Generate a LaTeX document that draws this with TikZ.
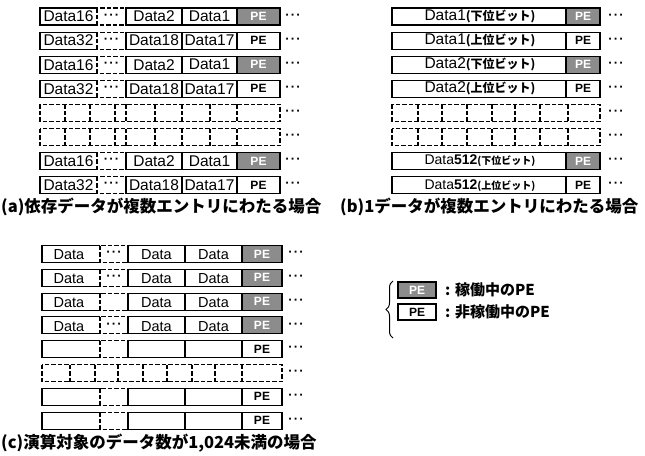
\documentclass[tikz,border=0pt]{standalone}
\usepackage{fontspec}
\setmainfont{Liberation Sans}
\newfontfamily\jp{Noto Sans CJK JP}
\usetikzlibrary{decorations.pathreplacing}
\newcommand{\mydots}{\textbf{·\kern1.2pt·\kern1.2pt·}}
\tikzset{
  cellline/.style={draw=black, line width=1.1pt},
  dcell/.style={draw=black, line width=1.1pt, dash pattern=on 4.5pt off 2pt},
  pebox/.style={draw=black, line width=1.1pt, inner sep=0pt, minimum height=17pt,
    font=\bfseries\fontsize{12}{12}\selectfont},
  peon/.style={fill=black!45, text=white},
  peoff/.style={fill=white, text=black},
  dtxt/.style={inner sep=0pt, font=\fontsize{15.5}{15.5}\selectfont},
  ctxt/.style={inner sep=0pt, font=\fontsize{14.5}{14.5}\selectfont},
  dotstxt/.style={inner sep=0pt, font=\fontsize{13}{13}\selectfont},
  captxt/.style={inner sep=0pt, anchor=west, font=\jp\bfseries\fontsize{16.5}{16.5}\selectfont},
  legtxt/.style={inner sep=0pt, anchor=west, font=\jp\bfseries\fontsize{15}{15}\selectfont},
}
\begin{document}
\begin{tikzpicture}[x=1pt,y=-1pt]
\useasboundingbox (0,0) rectangle (645,455);

% ---------------- panel (a) ----------------
\foreach \i/\a/\b/\c/\st in {0/Data16/Data2/Data1/peon,1/Data32/Data18/Data17/peoff,
    2/Data16/Data2/Data1/peon,3/Data32/Data18/Data17/peoff,
    6/Data16/Data2/Data1/peon,7/Data32/Data18/Data17/peoff}{
  \pgfmathsetmacro\y{16.5+24.1*\i}
  \draw[cellline] (97,\y-8.5) -- (40,\y-8.5) -- (40,\y+8.5) -- (97,\y+8.5);
  \draw[dcell] (97,\y-8.5) rectangle (126,\y+8.5);
  \draw[cellline] (126,\y-8.5) rectangle (237,\y+8.5) (182,\y-8.5) -- (182,\y+8.5);
  \node[dtxt] (a\i c1) at (68.5,\y) {\a};
  \node[dotstxt] (a\i c2) at (111.5,\y) {\mydots};
  \node[dtxt] (a\i c3) at (154,\y) {\b};
  \node[dtxt] (a\i c4) at (209.5,\y) {\c};
  \node[pebox,\st,minimum width=43pt] (a\i pe) at (258.5,\y) {PE};
  \node[dotstxt] (a\i r) at (293,\y) {\mydots};
}
\foreach \i in {4,5}{
  \pgfmathsetmacro\y{16.5+24.1*\i}
  \draw[dcell] (40,\y-8.5) rectangle (280,\y+8.5);
  \foreach \x in {65,90,115,126,155,182,210,237}
    \draw[dcell] (\x,\y-8.5) -- (\x,\y+8.5);
  \node[dotstxt] (a\i r) at (293,\y) {\mydots};
}
\node[captxt] (capa) at (1,207) {(a)依存データが複数エントリにわたる場合};

% ---------------- panel (b) ----------------
\foreach \i/\n/\w/\st in {0/1/下位ビット/peon,1/1/上位ビット/peoff,
    2/2/下位ビット/peon,3/2/上位ビット/peoff}{
  \pgfmathsetmacro\y{16.5+24.1*\i}
  \draw[cellline] (392,\y-8.5) rectangle (566,\y+8.5);
  \node[dtxt] (b\i t) at (480,\y) {Data\n{\jp\bfseries\fontsize{12}{12}\selectfont(\w)}};
  \node[pebox,\st,minimum width=34pt] (b\i pe) at (583,\y) {PE};
  \node[dotstxt] (b\i r) at (616,\y) {\mydots};
}
\foreach \i/\w/\st in {6/下位ビット/peon,7/上位ビット/peoff}{
  \pgfmathsetmacro\y{16.5+24.1*\i}
  \draw[cellline] (392,\y-8.5) rectangle (566,\y+8.5);
  \node[inner sep=0pt] (b\i t) at (480,\y) {\fontsize{14}{14}\selectfont Data\textbf{512}{\jp\bfseries\fontsize{10}{10}\selectfont(\w)}};
  \node[pebox,\st,minimum width=34pt] (b\i pe) at (583,\y) {PE};
  \node[dotstxt] (b\i r) at (616,\y) {\mydots};
}
\foreach \i in {4,5}{
  \pgfmathsetmacro\y{16.5+24.1*\i}
  \draw[dcell] (392,\y-8.5) rectangle (600,\y+8.5);
  \foreach \x in {418,442,467,492,515,540,568}
    \draw[dcell] (\x,\y-8.5) -- (\x,\y+8.5);
  \node[dotstxt] (b\i r) at (616,\y) {\mydots};
}
\node[captxt] (capb) at (340,207) {(b)1データが複数エントリにわたる場合};

% ---------------- panel (c) ----------------
\foreach \i/\d/\t/\st in {0/\mydots/Data/peon,1/\mydots/Data/peon,2//Data/peon,
    3/\mydots/Data/peon,4///peoff,6///peoff,7///peoff}{
  \pgfmathsetmacro\y{254+23.8*\i}
  \draw[cellline] (100,\y-8.5) -- (42,\y-8.5) -- (42,\y+8.5) -- (100,\y+8.5);
  \draw[dcell] (100,\y-8.5) rectangle (128,\y+8.5);
  \draw[cellline] (128,\y-8.5) rectangle (242,\y+8.5) (185,\y-8.5) -- (185,\y+8.5);
  \node[ctxt] (c\i c1) at (69,\y+1) {\t};
  \node[dotstxt] (c\i c2) at (114,\y) {\d};
  \node[ctxt] (c\i c3) at (156.5,\y+1) {\t};
  \node[ctxt] (c\i c4) at (213.5,\y+1) {\t};
  \node[pebox,\st,minimum width=40pt] (c\i pe) at (262,\y) {PE};
  \node[dotstxt] (c\i r) at (296,\y) {\mydots};
}
\foreach \i in {5}{
  \pgfmathsetmacro\y{254+23.8*\i}
  \draw[dcell] (42,\y-8.5) rectangle (282,\y+8.5);
  \foreach \x in {70,95,118,143,167,192,215,242}
    \draw[dcell] (\x,\y-8.5) -- (\x,\y+8.5);
  \node[dotstxt] (c\i r) at (296,\y) {\mydots};
}
\node[captxt] (capc) at (1,443) {(c)演算対象のデータ数が1,024未満の場合};

% ---------------- legend ----------------
\draw[line width=1pt, decorate, decoration={brace, amplitude=7pt}] (393,338) -- (393,281);
\node[pebox,peon,minimum width=38pt,minimum height=16pt] (lon) at (417,290) {PE};
\node[pebox,peoff,minimum width=38pt,minimum height=16pt] (loff) at (417,312) {PE};
\node[legtxt] (lont) at (445,290) {: 稼働中のPE};
\node[legtxt] (lofft) at (445,312) {: 非稼働中のPE};
\end{tikzpicture}
\end{document}
